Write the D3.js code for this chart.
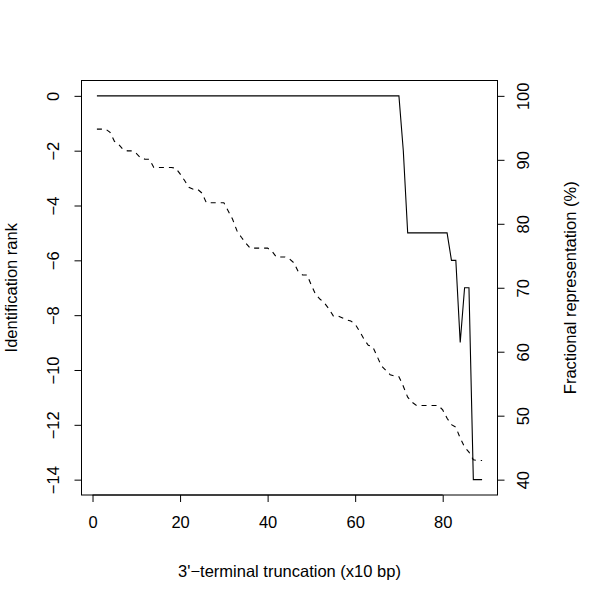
<!DOCTYPE html>
<html>
<head>
<meta charset="utf-8">
<script src="https://cdn.jsdelivr.net/npm/d3@7/dist/d3.min.js"></script>
<style>
  html, body { margin: 0; padding: 0; background: #fff; }
  svg { display: block; }
  text { font-family: "Liberation Sans", Arial, Helvetica, sans-serif; fill: #000; }
</style>
</head>
<body>
<svg id="chart" width="600" height="597"></svg>
<script>
// ---- data ----
const truncation = [1,2,3,4,5,6,7,8,9,10,11,12,13,14,15,16,17,18,19,20,21,22,23,24,25,26,27,28,29,30,
  31,32,33,34,35,36,37,38,39,40,41,42,43,44,45,46,47,48,49,50,51,52,53,54,55,56,57,58,59,60,
  61,62,63,64,65,66,67,68,69,70,71,72,73,74,75,76,77,78,79,80,81,82,83,84,85,86,87,88,89];

const identificationRank = [0,0,0,0,0,0,0,0,0,0,0,0,0,0,0,0,0,0,0,0,0,0,0,0,0,0,0,0,0,0,
  0,0,0,0,0,0,0,0,0,0,0,0,0,0,0,0,0,0,0,0,0,0,0,0,0,0,0,0,0,0,
  0,0,0,0,0,0,0,0,0,0,-2,-5,-5,-5,-5,-5,-5,-5,-5,-5,-5,-6,-6,-9,-7,-7,-14,-14,-14];

const fractionalRepresentation = [94.8,94.8,94.8,94.3,92.9,92.4,91.6,91.4,91.4,91.0,
  90.3,90.1,90.1,88.8,88.8,88.8,88.8,88.8,88.7,87.8,
  86.8,85.7,85.4,85.4,84.8,83.3,83.3,83.3,83.3,83.3,
  82.0,80.7,78.9,77.9,77.0,76.2,76.2,76.2,76.2,76.2,
  75.7,74.8,74.8,74.8,74.5,73.9,72.5,72.0,72.0,70.4,
  68.9,68.2,67.6,66.7,65.6,65.6,65.3,65.0,64.8,64.3,
  63.2,62.0,61.0,60.8,59.3,57.8,57.1,56.4,56.2,56.1,
  54.6,52.9,52.1,51.6,51.6,51.6,51.6,51.6,51.6,50.9,
  49.6,48.6,48.2,46.5,45.1,44.3,43.1,43.0,43.0];

const xTicks = [0, 20, 40, 60, 80];
const leftTicks = [0, -2, -4, -6, -8, -10, -12, -14];
const rightTicks = [40, 50, 60, 70, 80, 90, 100];

const xTitle = "3'\u2212terminal truncation (x10 bp)";
const leftTitle = "Identification rank";
const rightTitle = "Fractional representation (%)";

// ---- layout ----
const svg = d3.select("#chart");
const plot = { left: 81.5, right: 497.5, top: 80.5, bottom: 495 };

const xMin = d3.min(truncation), xMax = d3.max(truncation);
const xPad = (xMax - xMin) * 0.04;
const x = d3.scaleLinear().domain([xMin - xPad, xMax + xPad]).range([plot.left, plot.right]);

const yLo = -14, yHi = 0, yPad = (yHi - yLo) * 0.04;
const y = d3.scaleLinear().domain([yLo - yPad, yHi + yPad]).range([plot.bottom, plot.top]);

const rLo = 40, rHi = 100, rPad = (rHi - rLo) * 0.04;
const yR = d3.scaleLinear().domain([rLo - rPad, rHi + rPad]).range([plot.bottom, plot.top]);

const minusFmt = d => (d < 0 ? "\u2212" + Math.abs(d) : String(d));
const fontSize = 16.5;

// box
svg.append("rect")
  .attr("x", plot.left).attr("y", plot.top)
  .attr("width", plot.right - plot.left).attr("height", plot.bottom - plot.top)
  .attr("fill", "none").attr("stroke", "#000").attr("stroke-width", 1);

// x axis
const xAxis = d3.axisBottom(x).tickValues(xTicks).tickSize(7).tickPadding(5).tickFormat(d3.format("d"));
const gx = svg.append("g").attr("transform", `translate(0,${plot.bottom})`).call(xAxis);
gx.select(".domain").attr("d", `M${x(xTicks[0])},0H${x(xTicks[xTicks.length-1])}`);
gx.selectAll("text").attr("font-size", fontSize).attr("font-family", null).attr("dy", null).attr("y", 33);

// left axis
const yAxis = d3.axisLeft(y).tickValues(leftTicks).tickSize(7).tickFormat(minusFmt);
const gy = svg.append("g").attr("transform", `translate(${plot.left},0)`).call(yAxis);
gy.select(".domain").attr("d", `M0,${y(leftTicks[0])}V${y(leftTicks[leftTicks.length-1])}`);
gy.selectAll(".tick text")
  .attr("font-size", fontSize).attr("font-family", null)
  .attr("x", null).attr("dy", null)
  .attr("text-anchor", "middle")
  .attr("transform", "translate(-23,0) rotate(-90)");

// right axis
const yAxisR = d3.axisRight(yR).tickValues(rightTicks).tickSize(7).tickFormat(d3.format("d"));
const gr = svg.append("g").attr("transform", `translate(${plot.right},0)`).call(yAxisR);
gr.select(".domain").attr("d", `M0,${yR(rightTicks[0])}V${yR(rightTicks[rightTicks.length-1])}`);
gr.selectAll(".tick text")
  .attr("font-size", fontSize).attr("font-family", null)
  .attr("x", null).attr("dy", null)
  .attr("text-anchor", "middle")
  .attr("transform", "translate(31,0) rotate(-90)");

// titles
svg.append("text").attr("x", (plot.left + plot.right) / 2).attr("y", 577)
  .attr("text-anchor", "middle").attr("font-size", fontSize).text(xTitle);
svg.append("text").attr("text-anchor", "middle").attr("font-size", fontSize)
  .attr("transform", `translate(17,${(plot.top + plot.bottom) / 2}) rotate(-90)`).text(leftTitle);
svg.append("text").attr("text-anchor", "middle").attr("font-size", fontSize)
  .attr("transform", `translate(576,${(plot.top + plot.bottom) / 2}) rotate(-90)`).text(rightTitle);

// lines
const rankLine = d3.line().x((d, i) => x(truncation[i])).y(d => y(d));
svg.append("path").datum(identificationRank)
  .attr("d", rankLine).attr("fill", "none").attr("stroke", "#000").attr("stroke-width", 1.1);

const fracLine = d3.line().x((d, i) => x(truncation[i])).y(d => yR(d));
svg.append("path").datum(fractionalRepresentation)
  .attr("d", fracLine).attr("fill", "none").attr("stroke", "#000").attr("stroke-width", 1.1)
  .attr("stroke-dasharray", "5,5");
</script>
</body>
</html>
